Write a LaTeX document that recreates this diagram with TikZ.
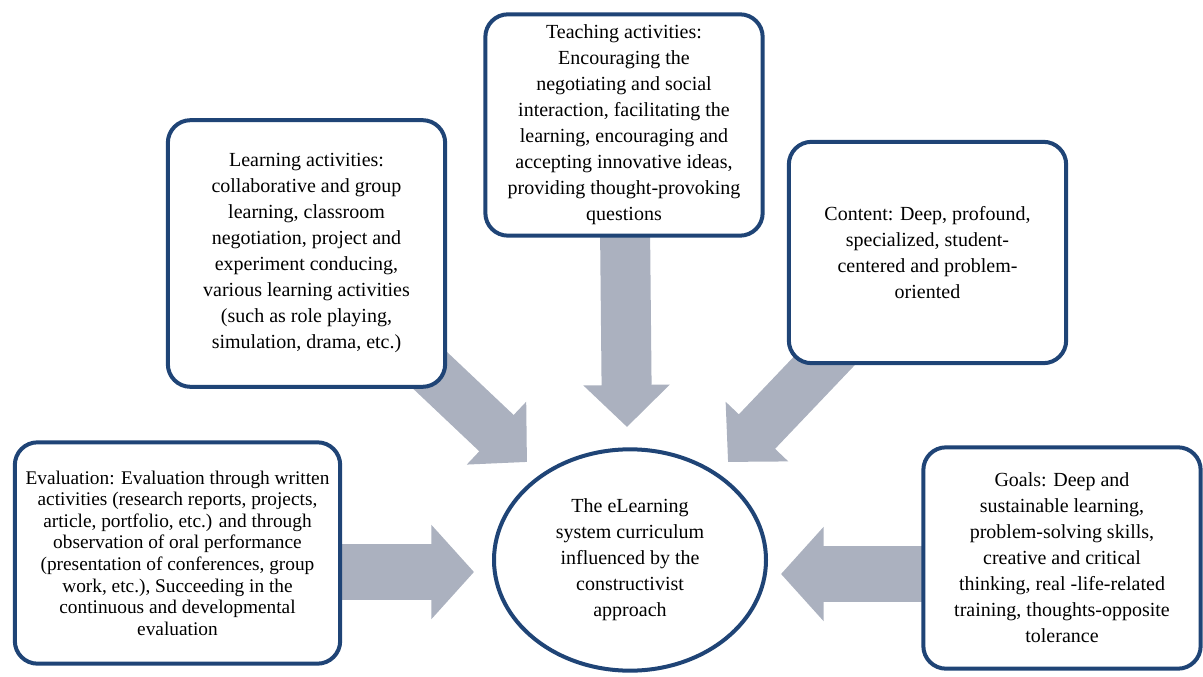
\documentclass[tikz,border=0pt]{standalone}
\usepackage{fontspec}
\setmainfont{Liberation Serif}
\usepackage{xcolor}
\definecolor{boxblue}{RGB}{31,68,118}
\definecolor{arrowgrey}{RGB}{171,177,191}
\usepackage{tikz}
\usetikzlibrary{arrows.meta}
\usetikzlibrary{shapes.geometric}
\usetikzlibrary{backgrounds}
\newcommand{\widthbox}{208pt}
\newcommand{\heightbox}{166pt}
\newcommand{\shaftwidth}{37.5pt}
\tikzset{
    common/.style={draw=boxblue, line width=3pt, fill=white, align=center, inner sep=2pt,
        font=\fontsize{15}{19.5}\selectfont},
    topic/.style={common, rectangle, rounded corners=17pt, minimum width=\widthbox, minimum height=\heightbox},
    core/.style={common, ellipse, minimum width=204pt, minimum height=166pt},
    fatarrow/.style={arrowgrey, line width=\shaftwidth, -{Triangle[length=31.5pt, width=63pt]}},
    widearrow/.style={fatarrow, line width=42pt, -{Triangle[length=32pt, width=69pt]}}
}

\begin{document}
\begin{tikzpicture}[x=0.75pt, y=-0.75pt]
    \useasboundingbox (0,0) rectangle (1203,677);

    \node[topic] (teach) at (624,125) {Teaching activities:\\ Encouraging the\\ negotiating and social\\
        interaction, facilitating the\\ learning, encouraging and\\ accepting innovative ideas,\\
        providing thought-provoking\\ questions};
    \node[topic, minimum height=200pt] (learn) at (306.5,253.5) {Learning activities:\\ collaborative and group\\
        learning, classroom\\ negotiation, project and\\ experiment conducing,\\
        various learning activities\\ (such as role playing,\\ simulation, drama, etc.)};
    \node[topic] (content) at (927.5,252.5) {Content: Deep, profound,\\ specialized, student-\\
        centered and problem-\\ oriented};
    \node[topic, minimum width=244pt, font=\fontsize{14.5}{16.2}\selectfont] (eval) at (177.5,553)
        {Evaluation: Evaluation through written\\ activities (research reports, projects,\\
        article, portfolio, etc.) and through\\ observation of oral performance\\
        (presentation of conferences, group\\ work, etc.), Succeeding in the\\
        continuous and developmental\\ evaluation};
    \node[topic] (goals) at (1062,558) {Goals: Deep and\\ sustainable learning,\\ problem-solving skills,\\
        creative and critical\\ thinking, real -life-related\\ training, thoughts-opposite\\ tolerance};
    \node[core] (curriculum) at (630,560) {The eLearning\\ system curriculum\\ influenced by the\\
        constructivist\\ approach};

    % arrow tips, short of the ellipse
    \coordinate (tip-n) at (627,427);
    \coordinate (tip-nw) at (527,462);
    \coordinate (tip-ne) at (728,462);
    \coordinate (tip-w) at (474,572);
    \coordinate (tip-e) at (781,574);

    \begin{scope}[on background layer]
        \draw[fatarrow] (teach.center) -- (tip-n);
        \draw[fatarrow] (learn.center) -- (tip-nw);
        \draw[fatarrow] (content.center) -- (tip-ne);
        \draw[widearrow] (eval.center |- tip-w) -- (tip-w);
        \draw[widearrow] (goals.center |- tip-e) -- (tip-e);
    \end{scope}
\end{tikzpicture}
\end{document}
